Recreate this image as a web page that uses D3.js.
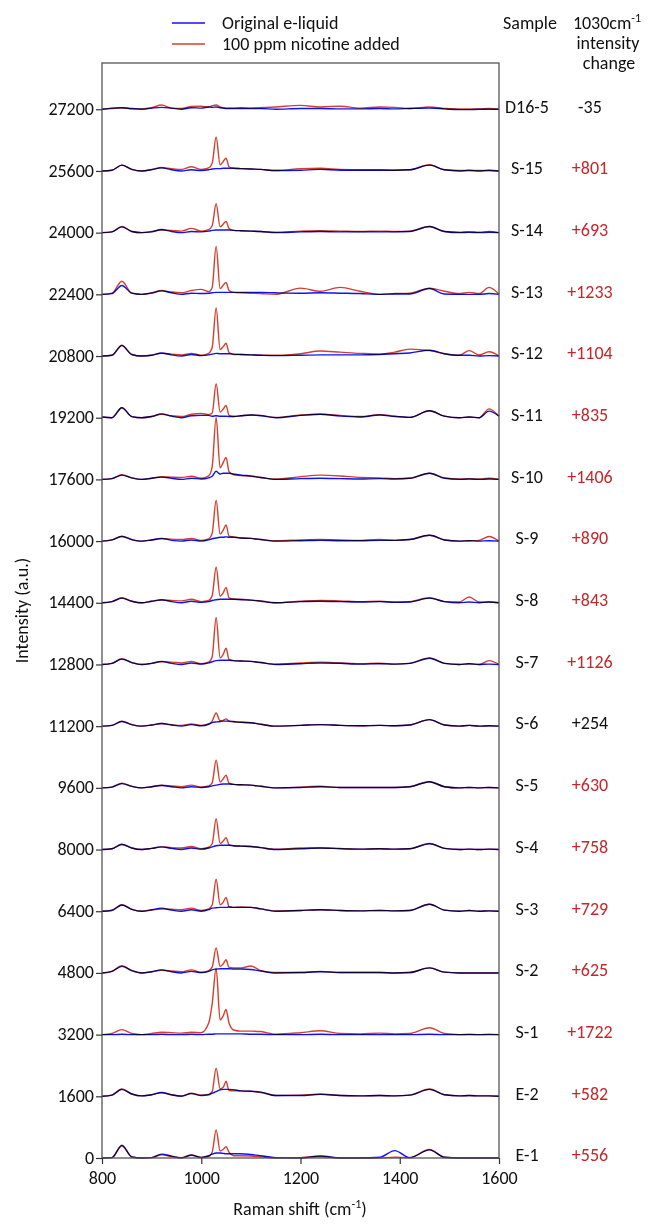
<!DOCTYPE html>
<html>
<head>
<meta charset="utf-8">
<script src="https://cdn.jsdelivr.net/npm/d3@7"></script>
<style>
  body { margin: 0; background: #fff; }
  svg text { font-family: Carlito, Calibri, Lato, sans-serif; fill: #111; }
  .spec { fill: none; stroke-width: 1.4; mix-blend-mode: multiply; stroke-linejoin: round; }
</style>
</head>
<body>
<div id="chart"></div>
<script>
// Raman shift grid (cm-1)
const shifts = [800, 820, 840, 860, 880, 900, 920, 940, 960, 980, 1000, 1015, 1022, 1030, 1038, 1044, 1050, 1056, 1065, 1080,
  1100, 1120, 1150, 1200, 1240, 1280, 1320, 1360, 1390, 1420, 1460, 1490, 1520, 1540, 1560, 1580, 1600];

// samples bottom to top, with their vertical offsets (= y tick values)
const samples = ["E-1", "E-2", "S-1", "S-2", "S-3", "S-4", "S-5", "S-6", "S-7", "S-8", "S-9", "S-10", "S-11", "S-12", "S-13", "S-14", "S-15", "D16-5"];
const offsets = [0, 1600, 3200, 4800, 6400, 8000, 9600, 11200, 12800, 14400, 16000, 17600, 19200, 20800, 22400, 24000, 25600, 27200];
const changes = ["+556", "+582", "+1722", "+625", "+729", "+758", "+630", "+254", "+1126", "+843", "+890", "+1406", "+835", "+1104", "+1233", "+693", "+801", "-35"];
const xTicks = [800, 1000, 1200, 1400, 1600];

// original e-liquid spectra (intensity above offset)
const original = [
  [0, 10, 330, 30, 0, 10, 100, 50, 0, 70, 10, 60, 100, 130, 130, 120, 110, 110, 110, 110, 90, 60, 10, 0, 50, 0, 0, 20, 190, 10, 210, 20, 0, 0, 0, 0, 0],
  [0, 30, 180, 60, 10, 40, 100, 40, 0, 70, 20, 40, 80, 120, 170, 180, 180, 180, 170, 140, 130, 110, 20, 20, 50, 20, 10, 20, 10, 30, 180, 40, 10, 20, 10, 10, 0],
  [0, 0, 10, 0, 0, 0, 10, 0, 0, 10, 0, 10, 10, 20, 20, 20, 20, 20, 20, 20, 10, 10, 0, 0, 10, 0, 0, 0, 0, 0, 10, 0, 0, 0, 0, 0, 0],
  [0, 40, 170, 60, 0, 30, 80, 30, 0, 40, 10, 40, 80, 100, 110, 110, 110, 110, 100, 100, 90, 50, 0, 10, 30, 10, 10, 10, 0, 10, 130, 20, 0, 0, 0, 0, 0],
  [0, 20, 160, 50, 0, 40, 80, 30, 0, 40, 0, 40, 80, 90, 100, 100, 100, 110, 100, 100, 100, 60, 0, 20, 40, 20, 10, 20, 10, 20, 180, 30, 0, 20, 0, 10, 0],
  [0, 20, 130, 40, 0, 30, 70, 30, 0, 40, 10, 40, 70, 100, 110, 110, 110, 110, 100, 90, 80, 50, 0, 20, 40, 20, 10, 20, 10, 20, 150, 30, 0, 10, 0, 10, 0],
  [0, 20, 110, 40, 0, 30, 60, 30, 0, 30, 10, 30, 50, 70, 90, 100, 100, 100, 90, 80, 70, 40, 0, 10, 30, 10, 10, 10, 10, 30, 160, 30, 0, 10, 0, 10, 0],
  [0, 20, 120, 40, 0, 30, 70, 30, 0, 40, 10, 50, 90, 110, 120, 130, 130, 130, 120, 100, 90, 50, 0, 20, 40, 20, 10, 20, 10, 30, 170, 30, 0, 20, 0, 10, 0],
  [0, 30, 140, 50, 0, 30, 80, 30, 0, 40, 10, 40, 70, 100, 110, 110, 110, 110, 100, 90, 80, 50, 0, 20, 40, 30, 10, 20, 10, 30, 160, 30, 0, 20, 0, 10, 0],
  [0, 30, 120, 40, 0, 40, 80, 30, 0, 40, 10, 30, 60, 80, 90, 90, 90, 90, 90, 80, 70, 40, 0, 30, 40, 30, 20, 30, 10, 20, 120, 30, 0, 20, 0, 20, 0],
  [0, 30, 120, 40, 0, 30, 70, 20, 0, 30, 0, 30, 60, 80, 100, 100, 110, 100, 100, 80, 70, 40, 0, 10, 20, 10, 10, 20, 20, 40, 150, 30, 0, 10, 0, 10, 0],
  [0, 20, 110, 40, 0, 30, 60, 30, 0, 30, 10, 40, 80, 210, 140, 160, 160, 160, 140, 110, 90, 50, 0, 20, 30, 20, 10, 20, 10, 30, 160, 30, 0, 10, 0, 10, 0],
  [20, 0, 260, 30, 0, 30, 100, 40, 0, 50, 60, 60, 40, 50, 40, 40, 40, 30, 30, 50, 70, 50, 0, 60, 90, 40, 20, 70, 30, 10, 180, 40, 0, 20, 0, 170, 40],
  [0, 20, 270, 40, 0, 20, 80, 30, 0, 40, 10, 30, 50, 70, 60, 60, 60, 60, 50, 40, 30, 20, 10, 20, 30, 30, 30, 40, 60, 80, 150, 60, 20, 20, 0, 10, 0],
  [0, 20, 230, 30, 0, 30, 90, 40, 0, 30, 20, 30, 40, 50, 50, 50, 50, 50, 50, 50, 50, 50, 40, 30, 40, 30, 20, 0, 10, 10, 150, 10, 0, 0, 0, 20, 0],
  [0, 20, 150, 30, 0, 20, 80, 30, 0, 30, 20, 40, 60, 70, 70, 70, 70, 70, 60, 50, 40, 30, 0, 20, 30, 20, 20, 20, 20, 30, 160, 30, 0, 10, 0, 10, 0],
  [0, 20, 150, 40, 0, 30, 80, 30, 0, 30, 10, 30, 50, 60, 60, 70, 70, 70, 70, 60, 50, 40, 10, 20, 40, 20, 20, 20, 20, 30, 150, 30, 0, 10, 0, 10, 0],
  [0, 30, 40, 20, 0, 30, 50, 30, 0, 40, 30, 60, 50, 60, 40, 30, 20, 20, 20, 20, 20, 20, 0, 20, 20, 10, 10, 20, 10, 20, 30, 10, -10, -10, 0, 0, 0]
];

// 100 ppm nicotine added spectra
const nicotine = [
  [0, 10, 310, 30, 0, 10, 80, 40, 10, 80, 20, 40, 150, 730, 180, 220, 290, 150, 60, 60, 50, 30, 0, 10, 40, 0, 0, 0, 20, 10, 220, 20, 0, 0, 0, 0, 0],
  [0, 30, 190, 60, 10, 40, 90, 40, 10, 80, 30, 50, 120, 730, 200, 230, 390, 150, 140, 140, 130, 100, 20, 30, 60, 20, 10, 20, 10, 30, 190, 40, 10, 20, 10, 10, 0],
  [0, 30, 130, 30, 0, 30, 60, 50, 40, 60, 50, 300, 800, 1720, 380, 480, 650, 300, 120, 90, 90, 80, 10, 50, 100, 30, 20, 40, 20, 30, 180, 30, 0, 10, 0, 10, 0],
  [0, 40, 190, 60, 0, 30, 70, 50, 30, 80, 10, 60, 150, 650, 170, 230, 340, 140, 130, 130, 180, 60, 10, 10, 40, 10, 10, 10, 0, 10, 130, 20, 0, 0, 0, 0, 0],
  [0, 30, 170, 50, 0, 30, 60, 50, 40, 80, 20, 60, 160, 830, 170, 230, 360, 120, 100, 110, 100, 60, 10, 20, 40, 20, 10, 20, 10, 20, 180, 30, 0, 20, 0, 10, 0],
  [0, 20, 140, 40, 0, 30, 70, 50, 40, 80, 20, 60, 150, 800, 160, 220, 310, 120, 100, 90, 80, 50, 10, 40, 40, 30, 10, 20, 10, 20, 160, 30, 0, 10, 0, 10, 0],
  [0, 20, 120, 40, 0, 30, 70, 50, 30, 70, 20, 50, 130, 720, 150, 230, 330, 120, 90, 80, 70, 40, 0, 20, 40, 10, 10, 10, 10, 30, 160, 30, 0, 10, 0, 10, 0],
  [0, 20, 130, 40, 0, 30, 70, 40, 20, 60, 20, 60, 130, 340, 140, 150, 190, 130, 110, 100, 90, 50, 0, 20, 40, 20, 10, 20, 10, 30, 170, 30, 0, 20, 0, 10, 0],
  [0, 30, 150, 50, 0, 30, 70, 60, 40, 80, 20, 60, 200, 1220, 170, 260, 420, 130, 100, 90, 80, 50, 10, 40, 60, 40, 20, 30, 10, 30, 170, 30, 0, 20, 0, 100, 0],
  [0, 30, 130, 40, 0, 40, 70, 60, 50, 90, 30, 60, 180, 930, 170, 250, 400, 130, 100, 90, 70, 50, 0, 40, 60, 50, 30, 40, 20, 30, 130, 30, 20, 150, 20, 20, 0],
  [0, 30, 130, 40, 0, 30, 60, 50, 40, 70, 20, 60, 200, 1060, 180, 280, 420, 130, 110, 80, 70, 40, 10, 30, 40, 30, 20, 40, 20, 40, 150, 30, 0, 10, 20, 120, 0],
  [0, 20, 120, 40, 0, 30, 70, 60, 50, 80, 30, 90, 330, 1610, 300, 430, 570, 200, 120, 100, 80, 50, 10, 70, 110, 90, 50, 40, 20, 30, 160, 40, 10, 20, 10, 30, 0],
  [20, 0, 260, 30, 0, 30, 90, 50, 30, 90, 110, 80, 120, 880, 150, 220, 320, 60, 30, 50, 70, 60, 10, 70, 90, 60, 30, 80, 40, 10, 180, 40, 0, 20, 0, 230, 40],
  [0, 20, 280, 40, 0, 20, 70, 50, 30, 70, 20, 70, 220, 1250, 170, 240, 330, 90, 40, 40, 30, 20, 20, 60, 130, 100, 70, 50, 100, 180, 140, 60, 20, 140, 30, 110, 0],
  [0, 30, 340, 30, 0, 40, 100, 60, 40, 100, 130, 70, 180, 1250, 150, 230, 310, 100, 50, 40, 30, 20, 0, 160, 80, 180, 80, 0, 20, 30, 160, 80, 20, 50, 20, 180, 0],
  [0, 20, 160, 30, 0, 30, 70, 60, 40, 110, 40, 80, 180, 750, 150, 220, 290, 110, 60, 50, 40, 30, 10, 40, 50, 40, 30, 40, 30, 40, 160, 30, 10, 20, 10, 30, 0],
  [0, 20, 150, 40, 0, 40, 90, 60, 40, 110, 40, 80, 200, 880, 160, 240, 330, 110, 70, 60, 50, 40, 10, 60, 70, 40, 30, 30, 20, 30, 160, 30, 10, 20, 10, 20, 0],
  [0, 20, 40, 10, 10, 40, 110, 30, 20, 70, 80, 60, 90, 110, 60, 40, 30, 30, 30, 40, 30, 40, 60, 100, 60, 80, 30, 60, 50, 20, 60, 20, 10, 10, 10, 20, 0]
];

const width = 657, height = 1226;
const mLeft = 102, mRight = 499, mTop = 63, mBottom = 1158;
const blue = "#1010ff", red = "#d2402c", valueRed = "#c4262b";
const fs = 18;

const svg = d3.select("#chart").append("svg")
  .attr("width", width)
  .attr("height", height);

const x = d3.scaleLinear().domain([800, 1600]).range([mLeft, mRight]);
const y = d3.scaleLinear().domain([0, 28400]).range([mBottom, mTop]);

// spectra
const line = d3.line()
  .x(d => x(d[0]))
  .y(d => y(d[1]))
  .curve(d3.curveMonotoneX);

const plot = svg.append("g").style("isolation", "isolate");
samples.forEach((s, i) => {
  plot.append("path")
    .attr("class", "spec")
    .attr("stroke", blue)
    .attr("d", line(shifts.map((v, j) => [v, offsets[i] + original[i][j]])));
  plot.append("path")
    .attr("class", "spec")
    .attr("stroke", red)
    .attr("d", line(shifts.map((v, j) => [v, offsets[i] + nicotine[i][j]])));
});

// frame
svg.append("rect")
  .attr("x", mLeft).attr("y", mTop)
  .attr("width", mRight - mLeft).attr("height", mBottom - mTop)
  .attr("fill", "none").attr("stroke", "#555").attr("stroke-width", 1.3);

// axes
const yAxis = svg.append("g")
  .attr("transform", `translate(${mLeft},0)`)
  .call(d3.axisLeft(y).tickValues(offsets).tickSize(6).tickPadding(2).tickFormat(d3.format("d")));
const xAxis = svg.append("g")
  .attr("transform", `translate(0,${mBottom})`)
  .call(d3.axisBottom(x).tickValues(xTicks).tickSize(6).tickPadding(7).tickFormat(d3.format("d")));
[yAxis, xAxis].forEach(a => {
  a.select(".domain").remove();
  a.selectAll("line").attr("stroke", "#333").attr("stroke-width", 1.2);
  a.selectAll("text").attr("font-size", fs).style("font-family", "Carlito, Calibri, Lato, sans-serif").attr("fill", "#111");
});
yAxis.selectAll("text").attr("dy", "0.28em");

// axis titles
const xt = svg.append("text")
  .attr("x", 300).attr("y", 1215)
  .attr("text-anchor", "middle").attr("font-size", fs);
xt.append("tspan").text("Raman shift (cm");
xt.append("tspan").attr("dy", -7).attr("font-size", 12).text("-1");
xt.append("tspan").attr("dy", 7).text(")");

svg.append("text")
  .attr("transform", `translate(28,${(mTop + mBottom) / 2}) rotate(-90)`)
  .attr("text-anchor", "middle").attr("font-size", fs)
  .text("Intensity (a.u.)");

// legend
const legend = [["Original e-liquid", blue], ["100 ppm nicotine added", red]];
legend.forEach((l, i) => {
  const ly = 23 + i * 21;
  svg.append("line")
    .attr("x1", 172).attr("x2", 205).attr("y1", ly).attr("y2", ly)
    .attr("stroke", l[1]).attr("stroke-width", 1.6);
  svg.append("text")
    .attr("x", 222).attr("y", ly).attr("dy", "0.35em")
    .attr("font-size", fs).text(l[0]);
});

// right-hand table
svg.append("text").attr("x", 530).attr("y", 23).attr("dy", "0.35em")
  .attr("text-anchor", "middle").attr("font-size", fs).text("Sample");
const h1 = svg.append("text").attr("x", 607).attr("y", 23).attr("dy", "0.35em")
  .attr("text-anchor", "middle").attr("font-size", fs);
h1.append("tspan").text("1030cm");
h1.append("tspan").attr("dy", -7).attr("font-size", 12).text("-1");
svg.append("text").attr("x", 608).attr("y", 43).attr("dy", "0.35em")
  .attr("text-anchor", "middle").attr("font-size", fs).text("intensity");
svg.append("text").attr("x", 609).attr("y", 63).attr("dy", "0.35em")
  .attr("text-anchor", "middle").attr("font-size", fs).text("change");

samples.forEach((s, i) => {
  const ty = y(offsets[i]) - 3;
  svg.append("text").attr("x", 527).attr("y", ty).attr("dy", "0.35em")
    .attr("text-anchor", "middle").attr("font-size", fs).text(s);
  const black = changes[i] === "-35" || changes[i] === "+254";
  svg.append("text").attr("x", 590).attr("y", ty).attr("dy", "0.35em")
    .attr("text-anchor", "middle").attr("font-size", fs)
    .style("fill", black ? "#111" : valueRed).text(changes[i]);
});
</script>
</body>
</html>
